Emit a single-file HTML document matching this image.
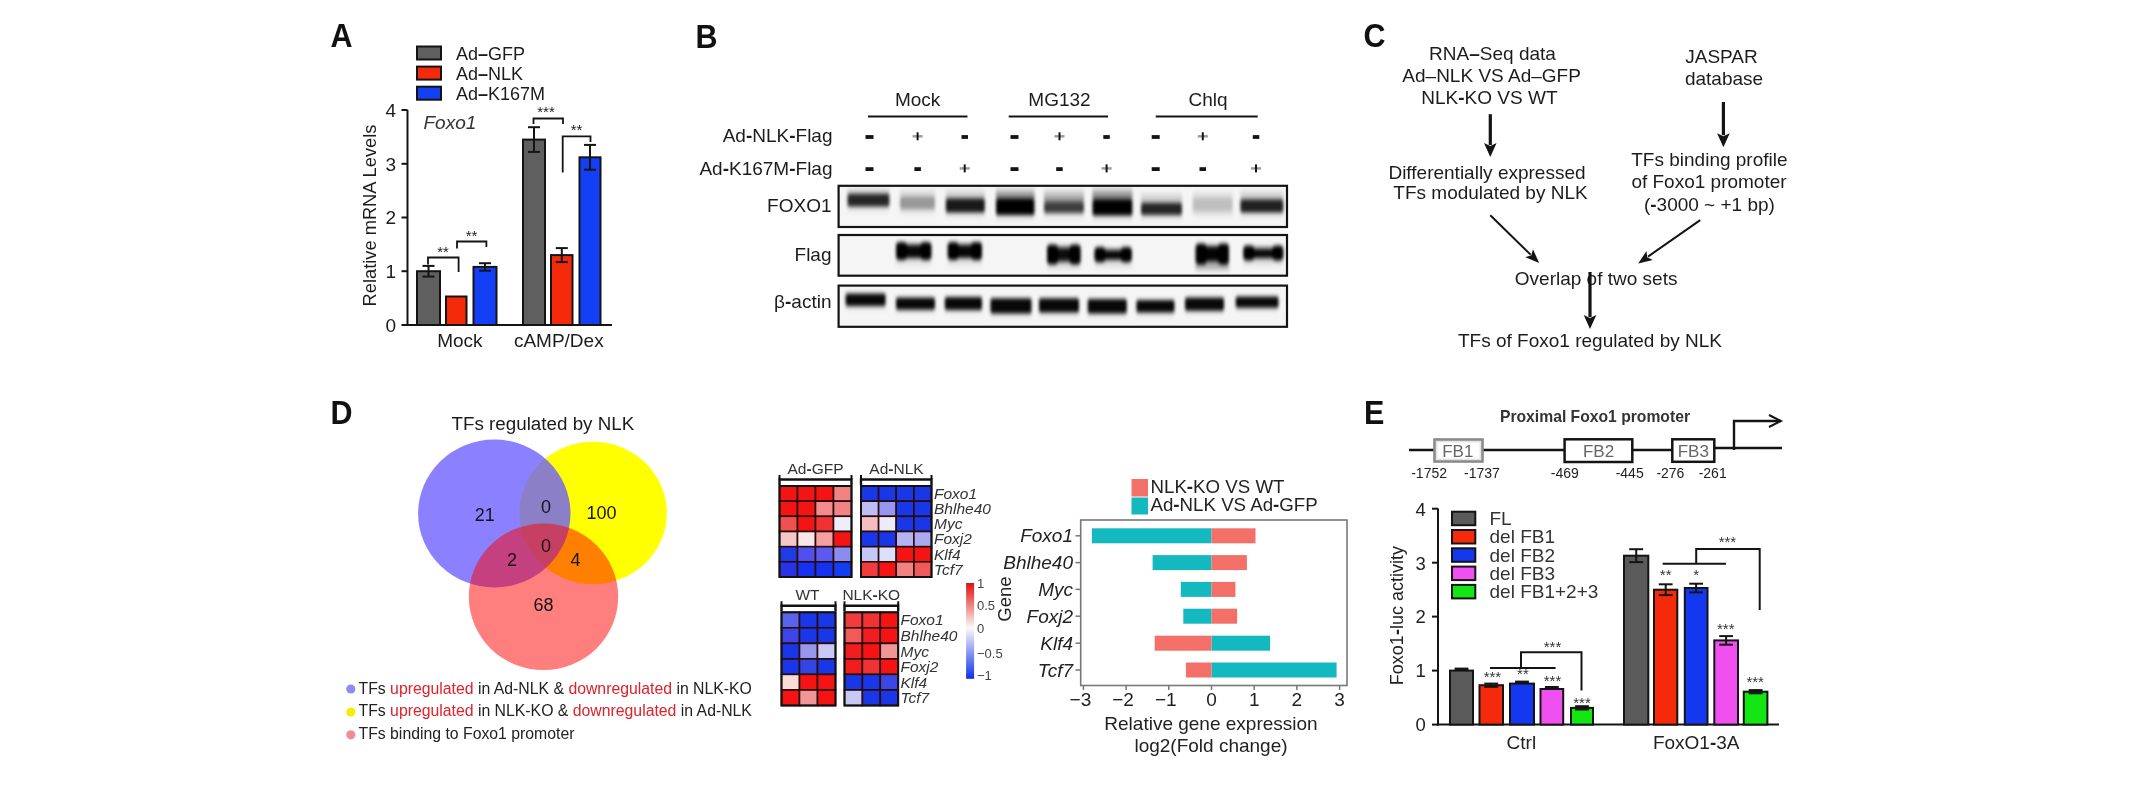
<!DOCTYPE html>
<html><head><meta charset="utf-8"><title>Figure</title>
<style>html,body{margin:0;padding:0;background:#fff;width:2133px;height:786px;overflow:hidden} text{font-family:'Liberation Sans',sans-serif}</style>
</head><body>
<svg width="2133" height="786" viewBox="0 0 2133 786" style="font-family:'Liberation Sans',sans-serif;display:block;filter:blur(0.5px)"><g transform="translate(330.5 46.8) scale(1 1.1)"><text x="0" y="0" font-size="30.5" font-weight="bold" fill="#111">A</text></g>
<rect x="417.0" y="46.5" width="24.0" height="13.0" fill="#5f5f5f" stroke="#141414" stroke-width="2" />
<text x="456.0" y="59.5" font-size="18" text-anchor="start" font-weight="normal" font-style="normal" fill="#1c1c1c" >Ad<tspan font-weight="bold">–</tspan>GFP</text>
<rect x="417.0" y="66.6" width="24.0" height="13.0" fill="#f52a0a" stroke="#141414" stroke-width="2" />
<text x="456.0" y="79.6" font-size="18" text-anchor="start" font-weight="normal" font-style="normal" fill="#1c1c1c" >Ad<tspan font-weight="bold">–</tspan>NLK</text>
<rect x="417.0" y="86.7" width="24.0" height="13.0" fill="#1440f5" stroke="#141414" stroke-width="2" />
<text x="456.0" y="99.7" font-size="18" text-anchor="start" font-weight="normal" font-style="normal" fill="#1c1c1c" >Ad<tspan font-weight="bold">–</tspan>K167M</text>
<line x1="407.5" y1="110.0" x2="407.5" y2="326.0" stroke="#141414" stroke-width="2"/>
<line x1="406.5" y1="325.0" x2="612.0" y2="325.0" stroke="#141414" stroke-width="2"/>
<line x1="401.5" y1="325.0" x2="407.5" y2="325.0" stroke="#141414" stroke-width="2"/>
<text x="396.0" y="331.8" font-size="19" text-anchor="end" font-weight="normal" font-style="normal" fill="#1c1c1c" >0</text>
<line x1="401.5" y1="271.2" x2="407.5" y2="271.2" stroke="#141414" stroke-width="2"/>
<text x="396.0" y="278.1" font-size="19" text-anchor="end" font-weight="normal" font-style="normal" fill="#1c1c1c" >1</text>
<line x1="401.5" y1="217.5" x2="407.5" y2="217.5" stroke="#141414" stroke-width="2"/>
<text x="396.0" y="224.3" font-size="19" text-anchor="end" font-weight="normal" font-style="normal" fill="#1c1c1c" >2</text>
<line x1="401.5" y1="163.8" x2="407.5" y2="163.8" stroke="#141414" stroke-width="2"/>
<text x="396.0" y="170.6" font-size="19" text-anchor="end" font-weight="normal" font-style="normal" fill="#1c1c1c" >3</text>
<line x1="401.5" y1="110.0" x2="407.5" y2="110.0" stroke="#141414" stroke-width="2"/>
<text x="396.0" y="116.8" font-size="19" text-anchor="end" font-weight="normal" font-style="normal" fill="#1c1c1c" >4</text>
<text x="376.3" y="215.5" font-size="18.3" text-anchor="middle" font-weight="normal" font-style="normal" fill="#1c1c1c" transform="rotate(-90 376.3 215.5)">Relative mRNA Levels</text>
<text x="423.5" y="129.2" font-size="19" text-anchor="start" font-weight="normal" font-style="italic" fill="#333" >Foxo1</text>
<text x="459.9" y="347.0" font-size="19" text-anchor="middle" font-weight="normal" font-style="normal" fill="#1c1c1c" >Mock</text>
<text x="558.8" y="347.0" font-size="19" text-anchor="middle" font-weight="normal" font-style="normal" fill="#1c1c1c" >cAMP/Dex</text>
<rect x="417.0" y="271.2" width="23.0" height="53.8" fill="#5f5f5f" stroke="#141414" stroke-width="2" />
<line x1="428.5" y1="265.9" x2="428.5" y2="276.6" stroke="#141414" stroke-width="2"/>
<line x1="422.5" y1="265.9" x2="434.5" y2="265.9" stroke="#141414" stroke-width="2"/>
<line x1="422.5" y1="276.6" x2="434.5" y2="276.6" stroke="#141414" stroke-width="2"/>
<rect x="446.0" y="296.5" width="20.5" height="28.5" fill="#f52a0a" stroke="#141414" stroke-width="2" />
<rect x="473.5" y="266.9" width="23.0" height="58.1" fill="#1440f5" stroke="#141414" stroke-width="2" />
<line x1="485.0" y1="263.2" x2="485.0" y2="270.7" stroke="#141414" stroke-width="2"/>
<line x1="479.0" y1="263.2" x2="491.0" y2="263.2" stroke="#141414" stroke-width="2"/>
<line x1="479.0" y1="270.7" x2="491.0" y2="270.7" stroke="#141414" stroke-width="2"/>
<rect x="523.0" y="139.6" width="22.0" height="185.4" fill="#5f5f5f" stroke="#141414" stroke-width="2" />
<line x1="534.0" y1="127.2" x2="534.0" y2="151.9" stroke="#141414" stroke-width="2"/>
<line x1="528.0" y1="127.2" x2="540.0" y2="127.2" stroke="#141414" stroke-width="2"/>
<line x1="528.0" y1="151.9" x2="540.0" y2="151.9" stroke="#141414" stroke-width="2"/>
<rect x="551.0" y="255.1" width="21.5" height="69.9" fill="#f52a0a" stroke="#141414" stroke-width="2" />
<line x1="561.8" y1="248.1" x2="561.8" y2="262.1" stroke="#141414" stroke-width="2"/>
<line x1="555.8" y1="248.1" x2="567.8" y2="248.1" stroke="#141414" stroke-width="2"/>
<line x1="555.8" y1="262.1" x2="567.8" y2="262.1" stroke="#141414" stroke-width="2"/>
<rect x="579.5" y="157.3" width="21.0" height="167.7" fill="#1440f5" stroke="#141414" stroke-width="2" />
<line x1="590.0" y1="144.9" x2="590.0" y2="169.7" stroke="#141414" stroke-width="2"/>
<line x1="584.0" y1="144.9" x2="596.0" y2="144.9" stroke="#141414" stroke-width="2"/>
<line x1="584.0" y1="169.7" x2="596.0" y2="169.7" stroke="#141414" stroke-width="2"/>
<polyline points="428.0,264.5 428.0,257.5 458.6,257.5 458.6,272.0" fill="none" stroke="#141414" stroke-width="1.8"/>
<text x="443.0" y="257.0" font-size="15" text-anchor="middle" font-weight="normal" font-style="normal" fill="#1c1c1c" >**</text>
<polyline points="457.0,248.5 457.0,241.5 486.4,241.5 486.4,247.0" fill="none" stroke="#141414" stroke-width="1.8"/>
<text x="471.5" y="241.0" font-size="15" text-anchor="middle" font-weight="normal" font-style="normal" fill="#1c1c1c" >**</text>
<polyline points="533.5,124.0 533.5,118.5 563.0,118.5 563.0,124.0" fill="none" stroke="#141414" stroke-width="1.8"/>
<text x="546.0" y="117.0" font-size="15" text-anchor="middle" font-weight="normal" font-style="normal" fill="#1c1c1c" >***</text>
<polyline points="562.7,172.6 562.7,136.3 590.5,136.3 590.5,142.0" fill="none" stroke="#141414" stroke-width="1.8"/>
<text x="576.5" y="135.0" font-size="15" text-anchor="middle" font-weight="normal" font-style="normal" fill="#1c1c1c" >**</text>
<g transform="translate(695.5 47.6) scale(1 1.1)"><text x="0" y="0" font-size="30.5" font-weight="bold" fill="#111">B</text></g>
<text x="917.6" y="106.0" font-size="19" text-anchor="middle" font-weight="normal" font-style="normal" fill="#1c1c1c" >Mock</text>
<line x1="868.0" y1="116.5" x2="967.5" y2="116.5" stroke="#141414" stroke-width="2"/>
<text x="1059.5" y="106.0" font-size="19" text-anchor="middle" font-weight="normal" font-style="normal" fill="#1c1c1c" >MG132</text>
<line x1="1008.7" y1="116.5" x2="1108.0" y2="116.5" stroke="#141414" stroke-width="2"/>
<text x="1208.0" y="106.0" font-size="19" text-anchor="middle" font-weight="normal" font-style="normal" fill="#1c1c1c" >Chlq</text>
<line x1="1155.7" y1="116.5" x2="1257.7" y2="116.5" stroke="#141414" stroke-width="2"/>
<text x="832.5" y="142.3" font-size="19" text-anchor="end" font-weight="normal" font-style="normal" fill="#1c1c1c" >Ad<tspan font-weight="bold">-</tspan>NLK<tspan font-weight="bold">-</tspan>Flag</text>
<text x="832.5" y="174.6" font-size="19" text-anchor="end" font-weight="normal" font-style="normal" fill="#1c1c1c" >Ad<tspan font-weight="bold">-</tspan>K167M<tspan font-weight="bold">-</tspan>Flag</text>
<rect x="865.5" y="135.1" width="8.0" height="3.8" fill="#141414" stroke="none" stroke-width="0" />
<rect x="912.6" y="135.1" width="10.0" height="2.4" fill="#9a9a9a" stroke="none" stroke-width="0" />
<rect x="916.6" y="132.3" width="2.0" height="8.0" fill="#141414" stroke="none" stroke-width="0" />
<rect x="961.5" y="135.1" width="6.5" height="3.8" fill="#141414" stroke="none" stroke-width="0" />
<rect x="1010.5" y="135.1" width="8.0" height="3.8" fill="#141414" stroke="none" stroke-width="0" />
<rect x="1054.5" y="135.1" width="10.0" height="2.4" fill="#9a9a9a" stroke="none" stroke-width="0" />
<rect x="1058.5" y="132.3" width="2.0" height="8.0" fill="#141414" stroke="none" stroke-width="0" />
<rect x="1103.3" y="135.1" width="6.5" height="3.8" fill="#141414" stroke="none" stroke-width="0" />
<rect x="1151.7" y="135.1" width="8.0" height="3.8" fill="#141414" stroke="none" stroke-width="0" />
<rect x="1197.8" y="135.1" width="10.0" height="2.4" fill="#9a9a9a" stroke="none" stroke-width="0" />
<rect x="1201.8" y="132.3" width="2.0" height="8.0" fill="#141414" stroke="none" stroke-width="0" />
<rect x="1252.8" y="135.1" width="6.5" height="3.8" fill="#141414" stroke="none" stroke-width="0" />
<rect x="865.5" y="167.2" width="8.0" height="3.8" fill="#141414" stroke="none" stroke-width="0" />
<rect x="914.4" y="167.2" width="6.5" height="3.8" fill="#141414" stroke="none" stroke-width="0" />
<rect x="959.7" y="167.2" width="10.0" height="2.4" fill="#9a9a9a" stroke="none" stroke-width="0" />
<rect x="963.7" y="164.4" width="2.0" height="8.0" fill="#141414" stroke="none" stroke-width="0" />
<rect x="1010.5" y="167.2" width="8.0" height="3.8" fill="#141414" stroke="none" stroke-width="0" />
<rect x="1056.2" y="167.2" width="6.5" height="3.8" fill="#141414" stroke="none" stroke-width="0" />
<rect x="1101.6" y="167.2" width="10.0" height="2.4" fill="#9a9a9a" stroke="none" stroke-width="0" />
<rect x="1105.6" y="164.4" width="2.0" height="8.0" fill="#141414" stroke="none" stroke-width="0" />
<rect x="1151.7" y="167.2" width="8.0" height="3.8" fill="#141414" stroke="none" stroke-width="0" />
<rect x="1199.5" y="167.2" width="6.5" height="3.8" fill="#141414" stroke="none" stroke-width="0" />
<rect x="1251.0" y="167.2" width="10.0" height="2.4" fill="#9a9a9a" stroke="none" stroke-width="0" />
<rect x="1255.0" y="164.4" width="2.0" height="8.0" fill="#141414" stroke="none" stroke-width="0" />
<text x="831.5" y="211.7" font-size="19" text-anchor="end" font-weight="normal" font-style="normal" fill="#1c1c1c" >FOXO1</text>
<text x="831.5" y="260.7" font-size="19" text-anchor="end" font-weight="normal" font-style="normal" fill="#1c1c1c" >Flag</text>
<text x="831.5" y="308.0" font-size="19" text-anchor="end" font-weight="normal" font-style="normal" fill="#1c1c1c" >β<tspan font-weight="bold">-</tspan>actin</text>
<rect x="838.6" y="185.8" width="448.4" height="41.2" fill="#f5f5f5" stroke="none" stroke-width="0" />
<rect x="838.6" y="235.0" width="448.4" height="40.7" fill="#f5f5f5" stroke="none" stroke-width="0" />
<rect x="838.6" y="285.6" width="448.4" height="41.2" fill="#f5f5f5" stroke="none" stroke-width="0" />
<defs><filter id="bl" x="-30%" y="-100%" width="160%" height="300%"><feGaussianBlur stdDeviation="1.6 1.9"/></filter><linearGradient id="hg" x1="0" y1="0" x2="0" y2="1"><stop offset="0" stop-color="#000" stop-opacity="0"/><stop offset="1" stop-color="#000" stop-opacity="1"/></linearGradient><linearGradient id="hgd" x1="0" y1="0" x2="0" y2="1"><stop offset="0" stop-color="#000" stop-opacity="1"/><stop offset="1" stop-color="#000" stop-opacity="0"/></linearGradient></defs>
<g filter="url(#bl)">
<rect x="847.5" y="187.0" width="41.9" height="7.0" rx="0" fill="url(#hg)" opacity="0.25"/>
<rect x="847.5" y="206.5" width="41.9" height="7.0" rx="0" fill="url(#hgd)" opacity="0.12"/>
<rect x="847.5" y="194.0" width="41.9" height="12.5" rx="2" fill="#000" opacity="0.85"/>
<rect x="900.0" y="188.0" width="35.0" height="9.0" rx="0" fill="url(#hg)" opacity="0.18"/>
<rect x="900.0" y="209.0" width="35.0" height="7.0" rx="0" fill="url(#hgd)" opacity="0.12"/>
<rect x="900.0" y="197.0" width="35.0" height="12.0" rx="2" fill="#000" opacity="0.38"/>
<rect x="945.8" y="188.0" width="39.0" height="10.5" rx="0" fill="url(#hg)" opacity="0.25"/>
<rect x="945.8" y="212.5" width="39.0" height="7.0" rx="0" fill="url(#hgd)" opacity="0.12"/>
<rect x="945.8" y="198.5" width="39.0" height="14.0" rx="2" fill="#000" opacity="0.9"/>
<rect x="996.0" y="187.0" width="38.5" height="12.0" rx="0" fill="url(#hg)" opacity="0.6"/>
<rect x="996.0" y="215.0" width="38.5" height="7.0" rx="0" fill="url(#hgd)" opacity="0.12"/>
<rect x="996.0" y="199.0" width="38.5" height="16.0" rx="2" fill="#000" opacity="1.0"/>
<rect x="1044.0" y="188.0" width="40.0" height="14.0" rx="0" fill="url(#hg)" opacity="0.45"/>
<rect x="1044.0" y="213.0" width="40.0" height="7.0" rx="0" fill="url(#hgd)" opacity="0.12"/>
<rect x="1044.0" y="202.0" width="40.0" height="11.0" rx="2" fill="#000" opacity="0.75"/>
<rect x="1092.5" y="186.0" width="39.9" height="13.5" rx="0" fill="url(#hg)" opacity="0.6"/>
<rect x="1092.5" y="215.5" width="39.9" height="7.0" rx="0" fill="url(#hgd)" opacity="0.12"/>
<rect x="1092.5" y="199.5" width="39.9" height="16.0" rx="2" fill="#000" opacity="1.0"/>
<rect x="1141.0" y="191.0" width="41.0" height="12.0" rx="0" fill="url(#hg)" opacity="0.25"/>
<rect x="1141.0" y="215.0" width="41.0" height="7.0" rx="0" fill="url(#hgd)" opacity="0.12"/>
<rect x="1141.0" y="203.0" width="41.0" height="12.0" rx="2" fill="#000" opacity="0.85"/>
<rect x="1192.7" y="189.0" width="40.0" height="9.0" rx="0" fill="url(#hg)" opacity="0.12"/>
<rect x="1192.7" y="211.0" width="40.0" height="7.0" rx="0" fill="url(#hgd)" opacity="0.12"/>
<rect x="1192.7" y="198.0" width="40.0" height="13.0" rx="2" fill="#000" opacity="0.22"/>
<rect x="1240.4" y="189.0" width="42.9" height="10.5" rx="0" fill="url(#hg)" opacity="0.25"/>
<rect x="1240.4" y="212.5" width="42.9" height="7.0" rx="0" fill="url(#hgd)" opacity="0.12"/>
<rect x="1240.4" y="199.5" width="42.9" height="13.0" rx="2" fill="#000" opacity="0.87"/>
<rect x="896.0" y="243.0" width="35.4" height="16.0" rx="2" fill="#000" opacity="0.45"/>
<rect x="899.0" y="245.5" width="29.4" height="12.0" rx="2" fill="#000" opacity="0.95"/>
<rect x="896.0" y="242.0" width="11.0" height="18.0" rx="4" fill="#000" opacity="1.0"/>
<rect x="920.4" y="242.0" width="11.0" height="18.0" rx="4" fill="#000" opacity="1.0"/>
<rect x="896.0" y="260.0" width="35.4" height="8.0" rx="0" fill="url(#hgd)" opacity="0.12"/>
<rect x="947.7" y="243.0" width="34.3" height="16.0" rx="2" fill="#000" opacity="0.45"/>
<rect x="950.7" y="245.5" width="28.3" height="12.0" rx="2" fill="#000" opacity="0.95"/>
<rect x="947.7" y="242.0" width="11.0" height="18.0" rx="4" fill="#000" opacity="1.0"/>
<rect x="971.0" y="242.0" width="11.0" height="18.0" rx="4" fill="#000" opacity="1.0"/>
<rect x="947.7" y="260.0" width="34.3" height="8.0" rx="0" fill="url(#hgd)" opacity="0.12"/>
<rect x="1047.0" y="245.5" width="33.6" height="18.0" rx="2" fill="#000" opacity="0.45"/>
<rect x="1050.0" y="248.5" width="27.6" height="12.0" rx="2" fill="#000" opacity="0.92"/>
<rect x="1047.0" y="244.5" width="11.0" height="20.0" rx="4" fill="#000" opacity="1.0"/>
<rect x="1069.6" y="244.5" width="11.0" height="20.0" rx="4" fill="#000" opacity="1.0"/>
<rect x="1047.0" y="264.5" width="33.6" height="8.0" rx="0" fill="url(#hgd)" opacity="0.12"/>
<rect x="1094.5" y="248.0" width="37.3" height="13.3" rx="2" fill="#000" opacity="0.45"/>
<rect x="1097.5" y="251.0" width="31.3" height="8.0" rx="2" fill="#000" opacity="0.97"/>
<rect x="1094.5" y="247.0" width="11.0" height="15.3" rx="4" fill="#000" opacity="1.0"/>
<rect x="1120.8" y="247.0" width="11.0" height="15.3" rx="4" fill="#000" opacity="1.0"/>
<rect x="1094.5" y="262.3" width="37.3" height="8.0" rx="0" fill="url(#hgd)" opacity="0.12"/>
<rect x="1195.6" y="244.5" width="33.4" height="19.0" rx="2" fill="#000" opacity="0.45"/>
<rect x="1198.6" y="247.0" width="27.4" height="14.0" rx="2" fill="#000" opacity="0.97"/>
<rect x="1195.6" y="243.5" width="11.0" height="21.0" rx="4" fill="#000" opacity="1.0"/>
<rect x="1218.0" y="243.5" width="11.0" height="21.0" rx="4" fill="#000" opacity="1.0"/>
<rect x="1195.6" y="264.5" width="33.4" height="8.0" rx="0" fill="url(#hgd)" opacity="0.12"/>
<rect x="1243.3" y="246.5" width="40.0" height="13.0" rx="2" fill="#000" opacity="0.45"/>
<rect x="1246.3" y="249.5" width="34.0" height="8.0" rx="2" fill="#000" opacity="0.97"/>
<rect x="1243.3" y="245.5" width="11.0" height="15.0" rx="4" fill="#000" opacity="1.0"/>
<rect x="1272.3" y="245.5" width="11.0" height="15.0" rx="4" fill="#000" opacity="1.0"/>
<rect x="1243.3" y="260.5" width="40.0" height="8.0" rx="0" fill="url(#hgd)" opacity="0.12"/>
<rect x="1195.5" y="264.0" width="33.5" height="9.0" rx="0" fill="url(#hgd)" opacity="0.3"/>
<rect x="845.6" y="293.5" width="40.0" height="12.5" rx="2" fill="#000" opacity="0.97"/>
<rect x="845.6" y="306.0" width="40.0" height="6.0" rx="0" fill="url(#hgd)" opacity="0.1"/>
<rect x="896.0" y="297.4" width="39.0" height="12.3" rx="2" fill="#000" opacity="0.97"/>
<rect x="896.0" y="309.7" width="39.0" height="6.0" rx="0" fill="url(#hgd)" opacity="0.1"/>
<rect x="944.8" y="297.0" width="37.2" height="13.0" rx="2" fill="#000" opacity="0.97"/>
<rect x="944.8" y="310.0" width="37.2" height="6.0" rx="0" fill="url(#hgd)" opacity="0.1"/>
<rect x="990.5" y="298.3" width="41.0" height="15.2" rx="2" fill="#000" opacity="0.97"/>
<rect x="990.5" y="313.5" width="41.0" height="6.0" rx="0" fill="url(#hgd)" opacity="0.1"/>
<rect x="1039.0" y="298.3" width="40.0" height="14.2" rx="2" fill="#000" opacity="0.97"/>
<rect x="1039.0" y="312.5" width="40.0" height="6.0" rx="0" fill="url(#hgd)" opacity="0.1"/>
<rect x="1087.7" y="299.0" width="39.1" height="14.6" rx="2" fill="#000" opacity="0.97"/>
<rect x="1087.7" y="313.6" width="39.1" height="6.0" rx="0" fill="url(#hgd)" opacity="0.1"/>
<rect x="1136.4" y="300.0" width="38.1" height="12.6" rx="2" fill="#000" opacity="0.97"/>
<rect x="1136.4" y="312.6" width="38.1" height="6.0" rx="0" fill="url(#hgd)" opacity="0.1"/>
<rect x="1185.0" y="297.4" width="39.0" height="13.3" rx="2" fill="#000" opacity="0.97"/>
<rect x="1185.0" y="310.7" width="39.0" height="6.0" rx="0" fill="url(#hgd)" opacity="0.1"/>
<rect x="1235.7" y="296.5" width="42.8" height="11.3" rx="2" fill="#000" opacity="0.97"/>
<rect x="1235.7" y="307.8" width="42.8" height="6.0" rx="0" fill="url(#hgd)" opacity="0.1"/>
</g>
<rect x="838.6" y="185.8" width="448.4" height="41.2" fill="none" stroke="#141414" stroke-width="2.2" />
<rect x="838.6" y="235.0" width="448.4" height="40.7" fill="none" stroke="#141414" stroke-width="2.2" />
<rect x="838.6" y="285.6" width="448.4" height="41.2" fill="none" stroke="#141414" stroke-width="2.2" />
<g transform="translate(1363.5 47.0) scale(1 1.1)"><text x="0" y="0" font-size="30.5" font-weight="bold" fill="#111">C</text></g>
<text x="1492.5" y="59.8" font-size="19" text-anchor="middle" font-weight="normal" font-style="normal" fill="#1c1c1c" >RNA<tspan font-weight="bold">–</tspan>Seq data</text>
<text x="1491.6" y="81.5" font-size="19" text-anchor="middle" font-weight="normal" font-style="normal" fill="#1c1c1c" >Ad–NLK VS Ad–GFP</text>
<text x="1489.4" y="104.4" font-size="19" text-anchor="middle" font-weight="normal" font-style="normal" fill="#1c1c1c" >NLK<tspan font-weight="bold">-</tspan>KO VS WT</text>
<line x1="1490.3" y1="114.2" x2="1490.3" y2="145.0" stroke="#141414" stroke-width="3.2"/>
<polygon points="1490.3,157.0 1484.0,143.0 1490.3,146.0 1496.6,143.0" fill="#141414"/>
<text x="1487.0" y="178.8" font-size="19" text-anchor="middle" font-weight="normal" font-style="normal" fill="#1c1c1c" >Differentially expressed</text>
<text x="1490.5" y="199.4" font-size="19" text-anchor="middle" font-weight="normal" font-style="normal" fill="#1c1c1c" >TFs modulated by NLK</text>
<text x="1721.5" y="63.1" font-size="19" text-anchor="middle" font-weight="normal" font-style="normal" fill="#1c1c1c" >JASPAR</text>
<text x="1724.0" y="85.1" font-size="19" text-anchor="middle" font-weight="normal" font-style="normal" fill="#1c1c1c" >database</text>
<line x1="1723.4" y1="102.0" x2="1723.4" y2="135.2" stroke="#141414" stroke-width="3.2"/>
<polygon points="1723.4,147.2 1717.1,133.2 1723.4,136.2 1729.7,133.2" fill="#141414"/>
<text x="1709.4" y="165.8" font-size="19" text-anchor="middle" font-weight="normal" font-style="normal" fill="#1c1c1c" >TFs binding profile</text>
<text x="1709.0" y="188.3" font-size="19" text-anchor="middle" font-weight="normal" font-style="normal" fill="#1c1c1c" >of Foxo1 promoter</text>
<text x="1709.4" y="210.5" font-size="19" text-anchor="middle" font-weight="normal" font-style="normal" fill="#1c1c1c" >(<tspan font-weight="bold">-</tspan>3000 ~ +1 bp)</text>
<line x1="1490.3" y1="215.3" x2="1530.6" y2="254.6" stroke="#141414" stroke-width="2"/>
<polygon points="1539.2,263.0 1525.3,257.2 1531.3,255.3 1533.0,249.3" fill="#141414"/>
<line x1="1700.2" y1="220.1" x2="1648.0" y2="256.6" stroke="#141414" stroke-width="2"/>
<polygon points="1638.2,263.5 1646.5,251.0 1647.2,257.2 1652.8,260.0" fill="#141414"/>
<text x="1596.1" y="284.5" font-size="19" text-anchor="middle" font-weight="normal" font-style="normal" fill="#1c1c1c" >Overlap of two sets</text>
<line x1="1590.0" y1="272.0" x2="1590.0" y2="317.0" stroke="#141414" stroke-width="3.2"/>
<polygon points="1590.0,329.0 1583.7,315.0 1590.0,318.0 1596.3,315.0" fill="#141414"/>
<text x="1590.0" y="347.2" font-size="19" text-anchor="middle" font-weight="normal" font-style="normal" fill="#1c1c1c" >TFs of Foxo1 regulated by NLK</text>
<g transform="translate(330.5 423.8) scale(1 1.1)"><text x="0" y="0" font-size="30.5" font-weight="bold" fill="#111">D</text></g>
<text x="542.9" y="429.8" font-size="18.8" text-anchor="middle" font-weight="normal" font-style="normal" fill="#1c1c1c" >TFs regulated by NLK</text>
<ellipse cx="593" cy="513" rx="73.8" ry="71.3" fill="#ffff00"/>
<ellipse cx="494.3" cy="513.5" rx="76.2" ry="74" fill="#6a5cff" fill-opacity="0.78"/>
<ellipse cx="543.5" cy="596.8" rx="74.7" ry="73.3" fill="#ff0000" fill-opacity="0.5"/>
<text x="484.8" y="521.3" font-size="18" text-anchor="middle" font-weight="normal" font-style="normal" fill="#141414" >21</text>
<text x="546.0" y="513.3" font-size="18" text-anchor="middle" font-weight="normal" font-style="normal" fill="#141414" >0</text>
<text x="601.5" y="518.9" font-size="18" text-anchor="middle" font-weight="normal" font-style="normal" fill="#141414" >100</text>
<text x="512.0" y="566.0" font-size="18" text-anchor="middle" font-weight="normal" font-style="normal" fill="#141414" >2</text>
<text x="546.0" y="551.9" font-size="18" text-anchor="middle" font-weight="normal" font-style="normal" fill="#141414" >0</text>
<text x="575.6" y="566.0" font-size="18" text-anchor="middle" font-weight="normal" font-style="normal" fill="#141414" >4</text>
<text x="543.6" y="610.5" font-size="18" text-anchor="middle" font-weight="normal" font-style="normal" fill="#141414" >68</text>
<circle cx="350.8" cy="689" r="4.6" fill="#8c8cf0"/>
<circle cx="350.8" cy="712" r="4.6" fill="#f0f000"/>
<circle cx="350.8" cy="734.8" r="4.6" fill="#f08c96"/>
<text x="358.5" y="693.7" font-size="15.8" text-anchor="start" font-weight="normal" font-style="normal" fill="#1c1c1c" ><tspan fill="#222">TFs </tspan><tspan fill="#e0202a">upregulated</tspan><tspan fill="#222"> in Ad-NLK &amp; </tspan><tspan fill="#e0202a">downregulated</tspan><tspan fill="#222"> in NLK-KO</tspan></text>
<text x="358.5" y="716.3" font-size="15.8" text-anchor="start" font-weight="normal" font-style="normal" fill="#1c1c1c" ><tspan fill="#222">TFs </tspan><tspan fill="#e0202a">upregulated</tspan><tspan fill="#222"> in NLK-KO &amp; </tspan><tspan fill="#e0202a">downregulated</tspan><tspan fill="#222"> in Ad-NLK</tspan></text>
<text x="358.5" y="739.0" font-size="15.8" text-anchor="start" font-weight="normal" font-style="normal" fill="#222" >TFs binding to Foxo1 promoter</text>
<rect x="779.5" y="486.0" width="18.0" height="15.2" fill="#f51414" stroke="#2a0a0a" stroke-width="1.6" />
<rect x="797.5" y="486.0" width="18.0" height="15.2" fill="#f51414" stroke="#2a0a0a" stroke-width="1.6" />
<rect x="815.5" y="486.0" width="18.0" height="15.2" fill="#f51414" stroke="#2a0a0a" stroke-width="1.6" />
<rect x="833.5" y="486.0" width="18.0" height="15.2" fill="#f08484" stroke="#2a0a0a" stroke-width="1.6" />
<rect x="779.5" y="501.2" width="18.0" height="15.2" fill="#f51414" stroke="#2a0a0a" stroke-width="1.6" />
<rect x="797.5" y="501.2" width="18.0" height="15.2" fill="#f51414" stroke="#2a0a0a" stroke-width="1.6" />
<rect x="815.5" y="501.2" width="18.0" height="15.2" fill="#f08c8c" stroke="#2a0a0a" stroke-width="1.6" />
<rect x="833.5" y="501.2" width="18.0" height="15.2" fill="#f08484" stroke="#2a0a0a" stroke-width="1.6" />
<rect x="779.5" y="516.3" width="18.0" height="15.2" fill="#f05050" stroke="#2a0a0a" stroke-width="1.6" />
<rect x="797.5" y="516.3" width="18.0" height="15.2" fill="#f51414" stroke="#2a0a0a" stroke-width="1.6" />
<rect x="815.5" y="516.3" width="18.0" height="15.2" fill="#f03232" stroke="#2a0a0a" stroke-width="1.6" />
<rect x="833.5" y="516.3" width="18.0" height="15.2" fill="#eeeefa" stroke="#2a0a0a" stroke-width="1.6" />
<rect x="779.5" y="531.5" width="18.0" height="15.2" fill="#f5c8c8" stroke="#2a0a0a" stroke-width="1.6" />
<rect x="797.5" y="531.5" width="18.0" height="15.2" fill="#fae6e6" stroke="#2a0a0a" stroke-width="1.6" />
<rect x="815.5" y="531.5" width="18.0" height="15.2" fill="#f5a0a0" stroke="#2a0a0a" stroke-width="1.6" />
<rect x="833.5" y="531.5" width="18.0" height="15.2" fill="#f51414" stroke="#2a0a0a" stroke-width="1.6" />
<rect x="779.5" y="546.7" width="18.0" height="15.2" fill="#1e3ce6" stroke="#2a0a0a" stroke-width="1.6" />
<rect x="797.5" y="546.7" width="18.0" height="15.2" fill="#5050f0" stroke="#2a0a0a" stroke-width="1.6" />
<rect x="815.5" y="546.7" width="18.0" height="15.2" fill="#5a5af0" stroke="#2a0a0a" stroke-width="1.6" />
<rect x="833.5" y="546.7" width="18.0" height="15.2" fill="#8c8cf0" stroke="#2a0a0a" stroke-width="1.6" />
<rect x="779.5" y="561.8" width="18.0" height="15.2" fill="#2832e6" stroke="#2a0a0a" stroke-width="1.6" />
<rect x="797.5" y="561.8" width="18.0" height="15.2" fill="#1432f0" stroke="#2a0a0a" stroke-width="1.6" />
<rect x="815.5" y="561.8" width="18.0" height="15.2" fill="#1432f0" stroke="#2a0a0a" stroke-width="1.6" />
<rect x="833.5" y="561.8" width="18.0" height="15.2" fill="#143cf0" stroke="#2a0a0a" stroke-width="1.6" />
<rect x="779.5" y="486.0" width="72.0" height="91.0" fill="none" stroke="#111" stroke-width="2" />
<polyline points="779.5,485.0 779.5,479.5 851.5,479.5 851.5,485.0" fill="none" stroke="#111" stroke-width="2.4"/>
<line x1="779.5" y1="479.5" x2="779.5" y2="475.0" stroke="#111" stroke-width="2"/>
<line x1="851.5" y1="479.5" x2="851.5" y2="475.0" stroke="#111" stroke-width="2"/>
<text x="815.5" y="474.2" font-size="15.5" text-anchor="middle" font-weight="normal" font-style="normal" fill="#333" >Ad<tspan font-weight="bold">-</tspan>GFP</text>
<rect x="861.0" y="486.0" width="17.6" height="15.2" fill="#1937e6" stroke="#2a0a0a" stroke-width="1.6" />
<rect x="878.6" y="486.0" width="17.6" height="15.2" fill="#1937e6" stroke="#2a0a0a" stroke-width="1.6" />
<rect x="896.2" y="486.0" width="17.6" height="15.2" fill="#1937e6" stroke="#2a0a0a" stroke-width="1.6" />
<rect x="913.9" y="486.0" width="17.6" height="15.2" fill="#1937e6" stroke="#2a0a0a" stroke-width="1.6" />
<rect x="861.0" y="501.2" width="17.6" height="15.2" fill="#bebef5" stroke="#2a0a0a" stroke-width="1.6" />
<rect x="878.6" y="501.2" width="17.6" height="15.2" fill="#9696f0" stroke="#2a0a0a" stroke-width="1.6" />
<rect x="896.2" y="501.2" width="17.6" height="15.2" fill="#1937e6" stroke="#2a0a0a" stroke-width="1.6" />
<rect x="913.9" y="501.2" width="17.6" height="15.2" fill="#1937e6" stroke="#2a0a0a" stroke-width="1.6" />
<rect x="861.0" y="516.3" width="17.6" height="15.2" fill="#f5bebe" stroke="#2a0a0a" stroke-width="1.6" />
<rect x="878.6" y="516.3" width="17.6" height="15.2" fill="#ebebfa" stroke="#2a0a0a" stroke-width="1.6" />
<rect x="896.2" y="516.3" width="17.6" height="15.2" fill="#1937e6" stroke="#2a0a0a" stroke-width="1.6" />
<rect x="913.9" y="516.3" width="17.6" height="15.2" fill="#1937e6" stroke="#2a0a0a" stroke-width="1.6" />
<rect x="861.0" y="531.5" width="17.6" height="15.2" fill="#1937e6" stroke="#2a0a0a" stroke-width="1.6" />
<rect x="878.6" y="531.5" width="17.6" height="15.2" fill="#1937e6" stroke="#2a0a0a" stroke-width="1.6" />
<rect x="896.2" y="531.5" width="17.6" height="15.2" fill="#b4b4f0" stroke="#2a0a0a" stroke-width="1.6" />
<rect x="913.9" y="531.5" width="17.6" height="15.2" fill="#aaaaf0" stroke="#2a0a0a" stroke-width="1.6" />
<rect x="861.0" y="546.7" width="17.6" height="15.2" fill="#c3c8f5" stroke="#2a0a0a" stroke-width="1.6" />
<rect x="878.6" y="546.7" width="17.6" height="15.2" fill="#dce1fa" stroke="#2a0a0a" stroke-width="1.6" />
<rect x="896.2" y="546.7" width="17.6" height="15.2" fill="#f51414" stroke="#2a0a0a" stroke-width="1.6" />
<rect x="913.9" y="546.7" width="17.6" height="15.2" fill="#f51414" stroke="#2a0a0a" stroke-width="1.6" />
<rect x="861.0" y="561.8" width="17.6" height="15.2" fill="#f03c3c" stroke="#2a0a0a" stroke-width="1.6" />
<rect x="878.6" y="561.8" width="17.6" height="15.2" fill="#f51414" stroke="#2a0a0a" stroke-width="1.6" />
<rect x="896.2" y="561.8" width="17.6" height="15.2" fill="#f08282" stroke="#2a0a0a" stroke-width="1.6" />
<rect x="913.9" y="561.8" width="17.6" height="15.2" fill="#f05a5a" stroke="#2a0a0a" stroke-width="1.6" />
<rect x="861.0" y="486.0" width="70.5" height="91.0" fill="none" stroke="#111" stroke-width="2" />
<polyline points="861.0,485.0 861.0,479.5 931.5,479.5 931.5,485.0" fill="none" stroke="#111" stroke-width="2.4"/>
<line x1="861.0" y1="479.5" x2="861.0" y2="475.0" stroke="#111" stroke-width="2"/>
<line x1="931.5" y1="479.5" x2="931.5" y2="475.0" stroke="#111" stroke-width="2"/>
<text x="896.5" y="474.2" font-size="15.5" text-anchor="middle" font-weight="normal" font-style="normal" fill="#333" >Ad<tspan font-weight="bold">-</tspan>NLK</text>
<rect x="781.5" y="612.3" width="18.0" height="15.5" fill="#5a64eb" stroke="#2a0a0a" stroke-width="1.6" />
<rect x="799.5" y="612.3" width="18.0" height="15.5" fill="#1937e6" stroke="#2a0a0a" stroke-width="1.6" />
<rect x="817.5" y="612.3" width="18.0" height="15.5" fill="#1937e6" stroke="#2a0a0a" stroke-width="1.6" />
<rect x="781.5" y="627.8" width="18.0" height="15.5" fill="#3c46e6" stroke="#2a0a0a" stroke-width="1.6" />
<rect x="799.5" y="627.8" width="18.0" height="15.5" fill="#1937e6" stroke="#2a0a0a" stroke-width="1.6" />
<rect x="817.5" y="627.8" width="18.0" height="15.5" fill="#1937e6" stroke="#2a0a0a" stroke-width="1.6" />
<rect x="781.5" y="643.4" width="18.0" height="15.5" fill="#1937e6" stroke="#2a0a0a" stroke-width="1.6" />
<rect x="799.5" y="643.4" width="18.0" height="15.5" fill="#9696eb" stroke="#2a0a0a" stroke-width="1.6" />
<rect x="817.5" y="643.4" width="18.0" height="15.5" fill="#c8c8f5" stroke="#2a0a0a" stroke-width="1.6" />
<rect x="781.5" y="658.9" width="18.0" height="15.5" fill="#1937e6" stroke="#2a0a0a" stroke-width="1.6" />
<rect x="799.5" y="658.9" width="18.0" height="15.5" fill="#3246e1" stroke="#2a0a0a" stroke-width="1.6" />
<rect x="817.5" y="658.9" width="18.0" height="15.5" fill="#1937e6" stroke="#2a0a0a" stroke-width="1.6" />
<rect x="781.5" y="674.4" width="18.0" height="15.5" fill="#fadcd7" stroke="#2a0a0a" stroke-width="1.6" />
<rect x="799.5" y="674.4" width="18.0" height="15.5" fill="#f51414" stroke="#2a0a0a" stroke-width="1.6" />
<rect x="817.5" y="674.4" width="18.0" height="15.5" fill="#f51414" stroke="#2a0a0a" stroke-width="1.6" />
<rect x="781.5" y="690.0" width="18.0" height="15.5" fill="#f51414" stroke="#2a0a0a" stroke-width="1.6" />
<rect x="799.5" y="690.0" width="18.0" height="15.5" fill="#f09696" stroke="#2a0a0a" stroke-width="1.6" />
<rect x="817.5" y="690.0" width="18.0" height="15.5" fill="#f51414" stroke="#2a0a0a" stroke-width="1.6" />
<rect x="781.5" y="612.3" width="54.0" height="93.2" fill="none" stroke="#111" stroke-width="2" />
<polyline points="781.5,611.3 781.5,605.8 835.5,605.8 835.5,611.3" fill="none" stroke="#111" stroke-width="2.4"/>
<line x1="781.5" y1="605.8" x2="781.5" y2="601.3" stroke="#111" stroke-width="2"/>
<line x1="835.5" y1="605.8" x2="835.5" y2="601.3" stroke="#111" stroke-width="2"/>
<text x="807.5" y="600.2" font-size="15.5" text-anchor="middle" font-weight="normal" font-style="normal" fill="#333" >WT</text>
<rect x="844.5" y="612.3" width="17.9" height="15.5" fill="#f03c3c" stroke="#2a0a0a" stroke-width="1.6" />
<rect x="862.4" y="612.3" width="17.9" height="15.5" fill="#f03232" stroke="#2a0a0a" stroke-width="1.6" />
<rect x="880.3" y="612.3" width="17.9" height="15.5" fill="#f51414" stroke="#2a0a0a" stroke-width="1.6" />
<rect x="844.5" y="627.8" width="17.9" height="15.5" fill="#f05a5a" stroke="#2a0a0a" stroke-width="1.6" />
<rect x="862.4" y="627.8" width="17.9" height="15.5" fill="#f01e1e" stroke="#2a0a0a" stroke-width="1.6" />
<rect x="880.3" y="627.8" width="17.9" height="15.5" fill="#f51414" stroke="#2a0a0a" stroke-width="1.6" />
<rect x="844.5" y="643.4" width="17.9" height="15.5" fill="#f01e1e" stroke="#2a0a0a" stroke-width="1.6" />
<rect x="862.4" y="643.4" width="17.9" height="15.5" fill="#f51414" stroke="#2a0a0a" stroke-width="1.6" />
<rect x="880.3" y="643.4" width="17.9" height="15.5" fill="#f09696" stroke="#2a0a0a" stroke-width="1.6" />
<rect x="844.5" y="658.9" width="17.9" height="15.5" fill="#f01e1e" stroke="#2a0a0a" stroke-width="1.6" />
<rect x="862.4" y="658.9" width="17.9" height="15.5" fill="#f03232" stroke="#2a0a0a" stroke-width="1.6" />
<rect x="880.3" y="658.9" width="17.9" height="15.5" fill="#f51414" stroke="#2a0a0a" stroke-width="1.6" />
<rect x="844.5" y="674.4" width="17.9" height="15.5" fill="#1937e6" stroke="#2a0a0a" stroke-width="1.6" />
<rect x="862.4" y="674.4" width="17.9" height="15.5" fill="#1937e6" stroke="#2a0a0a" stroke-width="1.6" />
<rect x="880.3" y="674.4" width="17.9" height="15.5" fill="#3c46e6" stroke="#2a0a0a" stroke-width="1.6" />
<rect x="844.5" y="690.0" width="17.9" height="15.5" fill="#c8c8f5" stroke="#2a0a0a" stroke-width="1.6" />
<rect x="862.4" y="690.0" width="17.9" height="15.5" fill="#1937e6" stroke="#2a0a0a" stroke-width="1.6" />
<rect x="880.3" y="690.0" width="17.9" height="15.5" fill="#1937e6" stroke="#2a0a0a" stroke-width="1.6" />
<rect x="844.5" y="612.3" width="53.7" height="93.2" fill="none" stroke="#111" stroke-width="2" />
<polyline points="844.5,611.3 844.5,605.8 898.2,605.8 898.2,611.3" fill="none" stroke="#111" stroke-width="2.4"/>
<line x1="844.5" y1="605.8" x2="844.5" y2="601.3" stroke="#111" stroke-width="2"/>
<line x1="898.2" y1="605.8" x2="898.2" y2="601.3" stroke="#111" stroke-width="2"/>
<text x="871.3" y="600.2" font-size="15.5" text-anchor="middle" font-weight="normal" font-style="normal" fill="#333" >NLK<tspan font-weight="bold">-</tspan>KO</text>
<text x="934.0" y="498.9" font-size="15.5" text-anchor="start" font-weight="normal" font-style="italic" fill="#333" >Foxo1</text>
<text x="900.5" y="625.4" font-size="15.5" text-anchor="start" font-weight="normal" font-style="italic" fill="#333" >Foxo1</text>
<text x="934.0" y="514.1" font-size="15.5" text-anchor="start" font-weight="normal" font-style="italic" fill="#333" >Bhlhe40</text>
<text x="900.5" y="640.9" font-size="15.5" text-anchor="start" font-weight="normal" font-style="italic" fill="#333" >Bhlhe40</text>
<text x="934.0" y="529.2" font-size="15.5" text-anchor="start" font-weight="normal" font-style="italic" fill="#333" >Myc</text>
<text x="900.5" y="656.5" font-size="15.5" text-anchor="start" font-weight="normal" font-style="italic" fill="#333" >Myc</text>
<text x="934.0" y="544.4" font-size="15.5" text-anchor="start" font-weight="normal" font-style="italic" fill="#333" >Foxj2</text>
<text x="900.5" y="672.0" font-size="15.5" text-anchor="start" font-weight="normal" font-style="italic" fill="#333" >Foxj2</text>
<text x="934.0" y="559.6" font-size="15.5" text-anchor="start" font-weight="normal" font-style="italic" fill="#333" >Klf4</text>
<text x="900.5" y="687.5" font-size="15.5" text-anchor="start" font-weight="normal" font-style="italic" fill="#333" >Klf4</text>
<text x="934.0" y="574.8" font-size="15.5" text-anchor="start" font-weight="normal" font-style="italic" fill="#333" >Tcf7</text>
<text x="900.5" y="703.0" font-size="15.5" text-anchor="start" font-weight="normal" font-style="italic" fill="#333" >Tcf7</text>
<defs><linearGradient id="cb" x1="0" y1="0" x2="0" y2="1"><stop offset="0" stop-color="#e01010"/><stop offset="0.47" stop-color="#fafafa"/><stop offset="1" stop-color="#1030e8"/></linearGradient></defs>
<rect x="966.1" y="583.0" width="8.0" height="95.8" fill="url(#cb)" stroke="none" stroke-width="0" />
<text x="977.0" y="588.1" font-size="13" text-anchor="start" font-weight="normal" font-style="normal" fill="#444" >1</text>
<text x="977.0" y="610.0" font-size="13" text-anchor="start" font-weight="normal" font-style="normal" fill="#444" >0.5</text>
<text x="977.0" y="632.7" font-size="13" text-anchor="start" font-weight="normal" font-style="normal" fill="#444" >0</text>
<text x="977.0" y="657.7" font-size="13" text-anchor="start" font-weight="normal" font-style="normal" fill="#444" >−0.5</text>
<text x="977.0" y="679.7" font-size="13" text-anchor="start" font-weight="normal" font-style="normal" fill="#444" >−1</text>
<rect x="1091.9" y="528.3" width="119.6" height="15.0" fill="#14b9c0" stroke="none" stroke-width="0" />
<rect x="1211.5" y="528.3" width="44.0" height="15.0" fill="#f27068" stroke="none" stroke-width="0" />
<line x1="1075.5" y1="535.8" x2="1080.7" y2="535.8" stroke="#777" stroke-width="1.5"/>
<text x="1073.0" y="542.4" font-size="19" text-anchor="end" font-weight="normal" font-style="italic" fill="#222" >Foxo1</text>
<rect x="1152.6" y="555.1" width="58.9" height="15.0" fill="#14b9c0" stroke="none" stroke-width="0" />
<rect x="1211.5" y="555.1" width="35.4" height="15.0" fill="#f27068" stroke="none" stroke-width="0" />
<line x1="1075.5" y1="562.6" x2="1080.7" y2="562.6" stroke="#777" stroke-width="1.5"/>
<text x="1073.0" y="569.2" font-size="19" text-anchor="end" font-weight="normal" font-style="italic" fill="#222" >Bhlhe40</text>
<rect x="1180.8" y="581.9" width="30.7" height="15.0" fill="#14b9c0" stroke="none" stroke-width="0" />
<rect x="1211.5" y="581.9" width="23.9" height="15.0" fill="#f27068" stroke="none" stroke-width="0" />
<line x1="1075.5" y1="589.4" x2="1080.7" y2="589.4" stroke="#777" stroke-width="1.5"/>
<text x="1073.0" y="596.0" font-size="19" text-anchor="end" font-weight="normal" font-style="italic" fill="#222" >Myc</text>
<rect x="1183.3" y="608.7" width="28.2" height="15.0" fill="#14b9c0" stroke="none" stroke-width="0" />
<rect x="1211.5" y="608.7" width="25.6" height="15.0" fill="#f27068" stroke="none" stroke-width="0" />
<line x1="1075.5" y1="616.2" x2="1080.7" y2="616.2" stroke="#777" stroke-width="1.5"/>
<text x="1073.0" y="622.8" font-size="19" text-anchor="end" font-weight="normal" font-style="italic" fill="#222" >Foxj2</text>
<rect x="1211.5" y="635.7" width="58.5" height="15.0" fill="#14b9c0" stroke="none" stroke-width="0" />
<rect x="1154.7" y="635.7" width="56.8" height="15.0" fill="#f27068" stroke="none" stroke-width="0" />
<line x1="1075.5" y1="643.2" x2="1080.7" y2="643.2" stroke="#777" stroke-width="1.5"/>
<text x="1073.0" y="649.8" font-size="19" text-anchor="end" font-weight="normal" font-style="italic" fill="#222" >Klf4</text>
<rect x="1211.5" y="662.5" width="125.1" height="15.0" fill="#14b9c0" stroke="none" stroke-width="0" />
<rect x="1185.9" y="662.5" width="25.6" height="15.0" fill="#f27068" stroke="none" stroke-width="0" />
<line x1="1075.5" y1="670.0" x2="1080.7" y2="670.0" stroke="#777" stroke-width="1.5"/>
<text x="1073.0" y="676.6" font-size="19" text-anchor="end" font-weight="normal" font-style="italic" fill="#222" >Tcf7</text>
<rect x="1080.7" y="520.0" width="266.3" height="165.5" fill="none" stroke="#777" stroke-width="1.6" />
<line x1="1083.4" y1="685.5" x2="1083.4" y2="690.0" stroke="#777" stroke-width="1.5"/>
<text x="1080.4" y="705.5" font-size="19" text-anchor="middle" font-weight="normal" font-style="normal" fill="#222" >−3</text>
<line x1="1126.1" y1="685.5" x2="1126.1" y2="690.0" stroke="#777" stroke-width="1.5"/>
<text x="1123.1" y="705.5" font-size="19" text-anchor="middle" font-weight="normal" font-style="normal" fill="#222" >−2</text>
<line x1="1168.8" y1="685.5" x2="1168.8" y2="690.0" stroke="#777" stroke-width="1.5"/>
<text x="1165.8" y="705.5" font-size="19" text-anchor="middle" font-weight="normal" font-style="normal" fill="#222" >−1</text>
<line x1="1211.5" y1="685.5" x2="1211.5" y2="690.0" stroke="#777" stroke-width="1.5"/>
<text x="1211.5" y="705.5" font-size="19" text-anchor="middle" font-weight="normal" font-style="normal" fill="#222" >0</text>
<line x1="1254.2" y1="685.5" x2="1254.2" y2="690.0" stroke="#777" stroke-width="1.5"/>
<text x="1254.2" y="705.5" font-size="19" text-anchor="middle" font-weight="normal" font-style="normal" fill="#222" >1</text>
<line x1="1296.9" y1="685.5" x2="1296.9" y2="690.0" stroke="#777" stroke-width="1.5"/>
<text x="1296.9" y="705.5" font-size="19" text-anchor="middle" font-weight="normal" font-style="normal" fill="#222" >2</text>
<line x1="1339.6" y1="685.5" x2="1339.6" y2="690.0" stroke="#777" stroke-width="1.5"/>
<text x="1339.6" y="705.5" font-size="19" text-anchor="middle" font-weight="normal" font-style="normal" fill="#222" >3</text>
<text x="1211.0" y="729.5" font-size="19" text-anchor="middle" font-weight="normal" font-style="normal" fill="#222" >Relative gene expression</text>
<text x="1211.0" y="752.0" font-size="19" text-anchor="middle" font-weight="normal" font-style="normal" fill="#222" >log2(Fold change)</text>
<text x="1010.5" y="599.0" font-size="18.5" text-anchor="middle" font-weight="normal" font-style="normal" fill="#222" transform="rotate(-90 1010.5 599)">Gene</text>
<rect x="1131.5" y="479.0" width="16.5" height="17.5" fill="#f27068" stroke="none" stroke-width="0" />
<rect x="1131.5" y="497.5" width="16.5" height="17.0" fill="#14b9c0" stroke="none" stroke-width="0" />
<text x="1150.5" y="493.2" font-size="18.7" text-anchor="start" font-weight="normal" font-style="normal" fill="#222" >NLK<tspan font-weight="bold">-</tspan>KO VS WT</text>
<text x="1150.5" y="511.0" font-size="18.7" text-anchor="start" font-weight="normal" font-style="normal" fill="#222" >Ad<tspan font-weight="bold">-</tspan>NLK VS Ad<tspan font-weight="bold">-</tspan>GFP</text>
<g transform="translate(1364.0 424.0) scale(1 1.1)"><text x="0" y="0" font-size="30.5" font-weight="bold" fill="#111">E</text></g>
<text x="1595.0" y="422.0" font-size="15.7" text-anchor="middle" font-weight="bold" font-style="normal" fill="#333" >Proximal Foxo1 promoter</text>
<line x1="1409.0" y1="449.9" x2="1564.0" y2="449.9" stroke="#141414" stroke-width="2.5"/>
<line x1="1632.0" y1="449.9" x2="1672.0" y2="449.9" stroke="#141414" stroke-width="2.5"/>
<line x1="1714.0" y1="448.0" x2="1782.0" y2="448.0" stroke="#141414" stroke-width="2.5"/>
<rect x="1434.5" y="439.5" width="48.0" height="22.0" fill="#fff" stroke="#8a8a8a" stroke-width="2.6" />
<rect x="1436.8" y="441.8" width="43.4" height="17.4" fill="none" stroke="#d8d8d8" stroke-width="1" />
<rect x="1564.6" y="439.3" width="67.7" height="22.7" fill="#fff" stroke="#141414" stroke-width="2.5" />
<rect x="1672.3" y="439.3" width="42.0" height="22.5" fill="#fff" stroke="#141414" stroke-width="2.5" />
<text x="1457.8" y="456.7" font-size="17" text-anchor="middle" font-weight="normal" font-style="normal" fill="#666" >FB1</text>
<text x="1598.5" y="456.7" font-size="17" text-anchor="middle" font-weight="normal" font-style="normal" fill="#666" >FB2</text>
<text x="1693.3" y="456.7" font-size="17" text-anchor="middle" font-weight="normal" font-style="normal" fill="#666" >FB3</text>
<polyline points="1734.0,450.0 1734.0,421.0 1781.0,421.0" fill="none" stroke="#141414" stroke-width="2.4"/>
<polyline points="1769.0,415.0 1781.0,421.0 1769.0,427.0" fill="none" stroke="#141414" stroke-width="2"/>
<text x="1429.1" y="478.3" font-size="14" text-anchor="middle" font-weight="normal" font-style="normal" fill="#222" >-1752</text>
<text x="1482.0" y="478.3" font-size="14" text-anchor="middle" font-weight="normal" font-style="normal" fill="#222" >-1737</text>
<text x="1564.8" y="478.3" font-size="14" text-anchor="middle" font-weight="normal" font-style="normal" fill="#222" >-469</text>
<text x="1629.7" y="478.3" font-size="14" text-anchor="middle" font-weight="normal" font-style="normal" fill="#222" >-445</text>
<text x="1670.4" y="478.3" font-size="14" text-anchor="middle" font-weight="normal" font-style="normal" fill="#222" >-276</text>
<text x="1712.7" y="478.3" font-size="14" text-anchor="middle" font-weight="normal" font-style="normal" fill="#222" >-261</text>
<line x1="1438.0" y1="508.5" x2="1438.0" y2="725.6" stroke="#141414" stroke-width="2"/>
<line x1="1437.0" y1="724.6" x2="1779.0" y2="724.6" stroke="#141414" stroke-width="2"/>
<line x1="1432.0" y1="724.6" x2="1438.0" y2="724.6" stroke="#141414" stroke-width="2"/>
<text x="1425.8" y="731.4" font-size="18.5" text-anchor="end" font-weight="normal" font-style="normal" fill="#222" >0</text>
<line x1="1432.0" y1="670.6" x2="1438.0" y2="670.6" stroke="#141414" stroke-width="2"/>
<text x="1425.8" y="677.4" font-size="18.5" text-anchor="end" font-weight="normal" font-style="normal" fill="#222" >1</text>
<line x1="1432.0" y1="616.6" x2="1438.0" y2="616.6" stroke="#141414" stroke-width="2"/>
<text x="1425.8" y="623.4" font-size="18.5" text-anchor="end" font-weight="normal" font-style="normal" fill="#222" >2</text>
<line x1="1432.0" y1="562.7" x2="1438.0" y2="562.7" stroke="#141414" stroke-width="2"/>
<text x="1425.8" y="569.5" font-size="18.5" text-anchor="end" font-weight="normal" font-style="normal" fill="#222" >3</text>
<line x1="1432.0" y1="508.7" x2="1438.0" y2="508.7" stroke="#141414" stroke-width="2"/>
<text x="1425.8" y="515.5" font-size="18.5" text-anchor="end" font-weight="normal" font-style="normal" fill="#222" >4</text>
<text x="1402.7" y="615.6" font-size="18" text-anchor="middle" font-weight="normal" font-style="normal" fill="#222" transform="rotate(-90 1402.7 615.6)">Foxo1<tspan font-weight="bold">-</tspan>luc activity</text>
<rect x="1450.0" y="670.6" width="23.0" height="54.0" fill="#5a5a5a" stroke="#141414" stroke-width="2" />
<line x1="1454.6" y1="669.1" x2="1468.4" y2="669.1" stroke="#141414" stroke-width="3"/>
<rect x="1479.5" y="685.2" width="23.5" height="39.4" fill="#f52a0a" stroke="#141414" stroke-width="2" />
<line x1="1491.2" y1="683.6" x2="1491.2" y2="686.8" stroke="#141414" stroke-width="2"/>
<line x1="1484.3" y1="683.6" x2="1498.2" y2="683.6" stroke="#141414" stroke-width="2"/>
<line x1="1484.3" y1="686.8" x2="1498.2" y2="686.8" stroke="#141414" stroke-width="2"/>
<rect x="1510.0" y="683.6" width="24.0" height="41.0" fill="#1437f0" stroke="#141414" stroke-width="2" />
<line x1="1515.1" y1="682.1" x2="1528.9" y2="682.1" stroke="#141414" stroke-width="3"/>
<rect x="1540.5" y="689.0" width="22.7" height="35.6" fill="#f050f0" stroke="#141414" stroke-width="2" />
<line x1="1544.9" y1="687.5" x2="1558.8" y2="687.5" stroke="#141414" stroke-width="3"/>
<rect x="1571.0" y="707.9" width="22.0" height="16.7" fill="#14e614" stroke="#141414" stroke-width="2" />
<line x1="1582.0" y1="706.2" x2="1582.0" y2="709.5" stroke="#141414" stroke-width="2"/>
<line x1="1575.1" y1="706.2" x2="1588.9" y2="706.2" stroke="#141414" stroke-width="2"/>
<line x1="1575.1" y1="709.5" x2="1588.9" y2="709.5" stroke="#141414" stroke-width="2"/>
<rect x="1624.0" y="555.7" width="24.3" height="168.9" fill="#5a5a5a" stroke="#141414" stroke-width="2" />
<line x1="1636.2" y1="549.2" x2="1636.2" y2="562.1" stroke="#141414" stroke-width="2"/>
<line x1="1629.2" y1="549.2" x2="1643.1" y2="549.2" stroke="#141414" stroke-width="2"/>
<line x1="1629.2" y1="562.1" x2="1643.1" y2="562.1" stroke="#141414" stroke-width="2"/>
<rect x="1654.0" y="589.7" width="23.3" height="134.9" fill="#f52a0a" stroke="#141414" stroke-width="2" />
<line x1="1665.7" y1="584.3" x2="1665.7" y2="595.1" stroke="#141414" stroke-width="2"/>
<line x1="1658.8" y1="584.3" x2="1672.6" y2="584.3" stroke="#141414" stroke-width="2"/>
<line x1="1658.8" y1="595.1" x2="1672.6" y2="595.1" stroke="#141414" stroke-width="2"/>
<rect x="1684.8" y="588.0" width="22.7" height="136.6" fill="#1437f0" stroke="#141414" stroke-width="2" />
<line x1="1696.1" y1="583.7" x2="1696.1" y2="592.4" stroke="#141414" stroke-width="2"/>
<line x1="1689.2" y1="583.7" x2="1703.0" y2="583.7" stroke="#141414" stroke-width="2"/>
<line x1="1689.2" y1="592.4" x2="1703.0" y2="592.4" stroke="#141414" stroke-width="2"/>
<rect x="1714.3" y="640.4" width="23.7" height="84.2" fill="#f050f0" stroke="#141414" stroke-width="2" />
<line x1="1726.1" y1="636.1" x2="1726.1" y2="644.7" stroke="#141414" stroke-width="2"/>
<line x1="1719.2" y1="636.1" x2="1733.0" y2="636.1" stroke="#141414" stroke-width="2"/>
<line x1="1719.2" y1="644.7" x2="1733.0" y2="644.7" stroke="#141414" stroke-width="2"/>
<rect x="1743.8" y="691.7" width="23.6" height="32.9" fill="#14e614" stroke="#141414" stroke-width="2" />
<line x1="1755.6" y1="690.1" x2="1755.6" y2="693.3" stroke="#141414" stroke-width="2"/>
<line x1="1748.7" y1="690.1" x2="1762.5" y2="690.1" stroke="#141414" stroke-width="2"/>
<line x1="1748.7" y1="693.3" x2="1762.5" y2="693.3" stroke="#141414" stroke-width="2"/>
<rect x="1452.0" y="511.7" width="23.3" height="13.5" fill="#5a5a5a" stroke="#141414" stroke-width="2" />
<text x="1489.5" y="525.0" font-size="19" text-anchor="start" font-weight="normal" font-style="normal" fill="#333" >FL</text>
<rect x="1452.0" y="530.0" width="23.3" height="13.5" fill="#f52a0a" stroke="#141414" stroke-width="2" />
<text x="1489.5" y="543.3" font-size="19" text-anchor="start" font-weight="normal" font-style="normal" fill="#333" >del FB1</text>
<rect x="1452.0" y="548.3" width="23.3" height="13.5" fill="#1437f0" stroke="#141414" stroke-width="2" />
<text x="1489.5" y="561.6" font-size="19" text-anchor="start" font-weight="normal" font-style="normal" fill="#333" >del FB2</text>
<rect x="1452.0" y="566.6" width="23.3" height="13.5" fill="#f050f0" stroke="#141414" stroke-width="2" />
<text x="1489.5" y="579.9" font-size="19" text-anchor="start" font-weight="normal" font-style="normal" fill="#333" >del FB3</text>
<rect x="1452.0" y="584.9" width="23.3" height="13.5" fill="#14e614" stroke="#141414" stroke-width="2" />
<text x="1489.5" y="598.2" font-size="19" text-anchor="start" font-weight="normal" font-style="normal" fill="#333" >del FB1+2+3</text>
<polyline points="1490.0,668.1 1555.6,668.1" fill="none" stroke="#141414" stroke-width="2"/>
<polyline points="1521.0,668.1 1521.0,652.2 1581.5,652.2 1581.5,690.4" fill="none" stroke="#141414" stroke-width="2"/>
<text x="1552.5" y="651.5" font-size="15" text-anchor="middle" font-weight="normal" font-style="normal" fill="#333" >***</text>
<text x="1492.4" y="681.5" font-size="15" text-anchor="middle" font-weight="normal" font-style="normal" fill="#333" >***</text>
<text x="1522.9" y="679.1" font-size="15" text-anchor="middle" font-weight="normal" font-style="normal" fill="#333" >**</text>
<text x="1552.5" y="686.1" font-size="15" text-anchor="middle" font-weight="normal" font-style="normal" fill="#333" >***</text>
<text x="1582.0" y="707.5" font-size="15" text-anchor="middle" font-weight="normal" font-style="normal" fill="#333" >***</text>
<polyline points="1662.6,563.7 1726.0,563.7" fill="none" stroke="#141414" stroke-width="2"/>
<polyline points="1696.2,563.7 1696.2,549.0 1759.7,549.0 1759.7,610.1" fill="none" stroke="#141414" stroke-width="2"/>
<text x="1727.4" y="546.9" font-size="15" text-anchor="middle" font-weight="normal" font-style="normal" fill="#333" >***</text>
<text x="1665.7" y="579.9" font-size="15" text-anchor="middle" font-weight="normal" font-style="normal" fill="#333" >**</text>
<text x="1696.2" y="579.5" font-size="15" text-anchor="middle" font-weight="normal" font-style="normal" fill="#333" >*</text>
<text x="1725.8" y="633.9" font-size="15" text-anchor="middle" font-weight="normal" font-style="normal" fill="#333" >***</text>
<text x="1755.2" y="687.4" font-size="15" text-anchor="middle" font-weight="normal" font-style="normal" fill="#333" >***</text>
<text x="1521.4" y="749.1" font-size="19" text-anchor="middle" font-weight="normal" font-style="normal" fill="#222" >Ctrl</text>
<text x="1696.2" y="749.1" font-size="19" text-anchor="middle" font-weight="normal" font-style="normal" fill="#222" >FoxO1<tspan font-weight="bold">-</tspan>3A</text></svg>
</body></html>
